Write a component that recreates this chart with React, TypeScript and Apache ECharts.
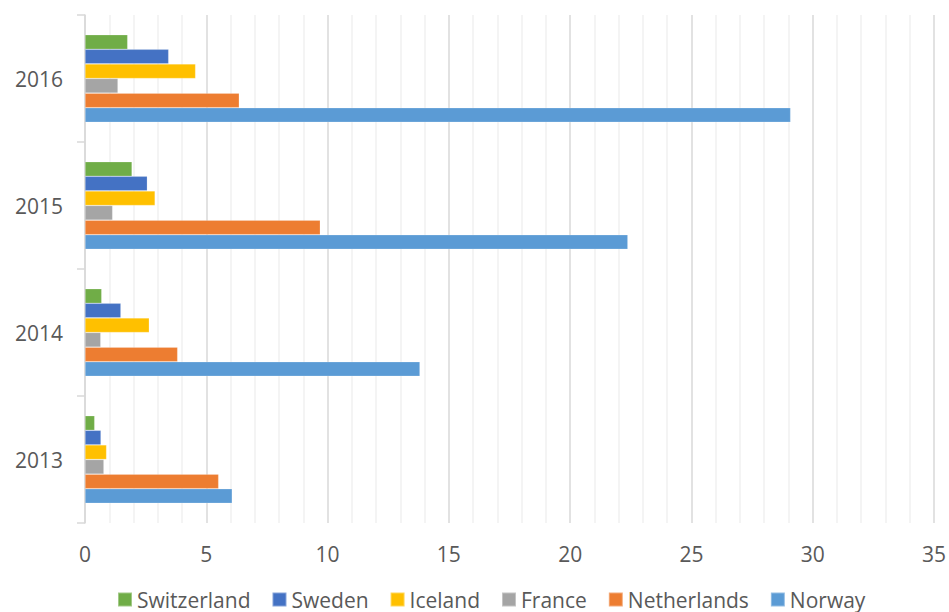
import React, { useEffect, useRef } from "react";
import * as echarts from "echarts";

// Years on the category axis (bottom to top)
const years = ["2013", "2014", "2015", "2016"];

// Values per country, one per year
const norway = [6.07, 13.81, 22.38, 29.09];
const netherlands = [5.51, 3.82, 9.7, 6.36];
const france = [0.78, 0.65, 1.14, 1.36];
const iceland = [0.89, 2.65, 2.89, 4.56];
const sweden = [0.66, 1.48, 2.57, 3.45];
const switzerland = [0.4, 0.69, 1.94, 1.76];

// Legend order as listed under the chart
const legendOrder = ["Switzerland", "Sweden", "Iceland", "France", "Netherlands", "Norway"];

// Drawn top to bottom inside each year
const seriesDefs = [
  { name: "Switzerland", data: switzerland, color: "#70AD47" },
  { name: "Sweden", data: sweden, color: "#4472C4" },
  { name: "Iceland", data: iceland, color: "#FFC000" },
  { name: "France", data: france, color: "#A5A5A5" },
  { name: "Netherlands", data: netherlands, color: "#ED7D31" },
  { name: "Norway", data: norway, color: "#5B9BD5" },
];

const FONT = "'Open Sans', 'Noto Sans', sans-serif";
const TEXT = "#595959";

export default function App() {
  const ref = useRef<HTMLDivElement>(null);

  useEffect(() => {
    if (!ref.current) return;
    const chart = echarts.init(ref.current, null, { renderer: "svg" });
    chart.setOption({
      animation: false,
      backgroundColor: "#ffffff",
      textStyle: { fontFamily: FONT },
      grid: { left: 85, right: 15, top: 15, height: 508, containLabel: false },
      legend: {
        data: legendOrder,
        left: 117,
        top: 589,
        padding: 0,
        icon: "rect",
        itemWidth: 14,
        itemHeight: 14,
        itemGap: 21,
        textStyle: { color: TEXT, fontSize: 21, fontFamily: FONT },
      },
      xAxis: {
        type: "value",
        min: 0,
        max: 35,
        interval: 5,
        axisLine: { show: false },
        axisTick: { show: false },
        axisLabel: { color: TEXT, fontSize: 21, fontFamily: FONT, margin: 20 },
        splitLine: { show: true, lineStyle: { color: "#D9D9D9", width: 1.5 } },
        minorTick: { show: false, splitNumber: 5 },
        minorSplitLine: { show: true, lineStyle: { color: "#F0F0F0", width: 1.5 } },
      },
      yAxis: {
        type: "category",
        data: years,
        axisLine: { show: true, lineStyle: { color: "#D9D9D9", width: 1.5 } },
        axisTick: { show: true, length: 8, lineStyle: { color: "#D9D9D9", width: 1.5 } },
        axisLabel: { color: TEXT, fontSize: 21, fontFamily: FONT, margin: 22 },
        splitLine: { show: false },
      },
      series: seriesDefs.map((s) => ({
        name: s.name,
        type: "bar",
        data: s.data,
        barGap: "0%",
        barCategoryGap: "31%",
        itemStyle: { color: s.color, borderColor: "rgba(255,255,255,0.35)", borderWidth: 0.6 },
      })),
    });
    return () => chart.dispose();
  }, []);

  return (
    <div
      ref={ref}
      style={{ position: "fixed", left: 0, top: 0, width: 949, height: 612, background: "#fff" }}
    />
  );
}
